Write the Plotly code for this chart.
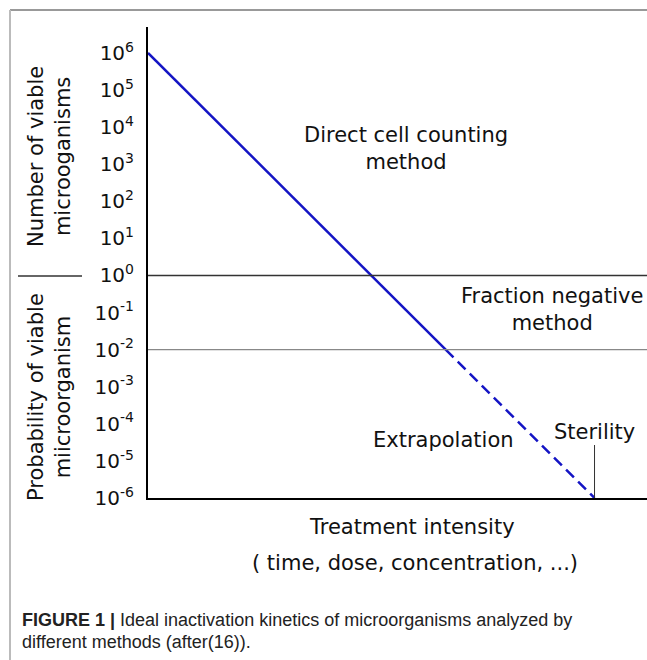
import numpy as np
import plotly.graph_objects as go

# ---- data ----
treatment = [0, 8, 12]            # treatment intensity (arbitrary units)
viable = [1e6, 1e-2, 1e-6]        # number / probability of viable microorganisms
tick_exponents = list(range(-6, 7))
tick_labels = [f"10<sup>{e}</sup>" for e in tick_exponents]

logv = list(np.log10(viable))

W, H = 647, 660
L, R, T, B = 148, 0, 27, 162
pw, ph = W - L - R, H - T - B
XR = [0, 13.41]
YR = [-6, 6.7]

def px(xp):   # pixel x -> paper x
    return (xp - L) / pw
def py(yp):   # pixel y -> paper y
    return (H - B - yp) / ph
def yd(yp):
    return YR[1] - (yp - T) / ph * (YR[1] - YR[0])
def xd(xp):
    return (xp - L) / pw * (XR[1] - XR[0])

fig = go.Figure()
blue = "#1414c4"
fig.add_trace(go.Scatter(x=treatment[:2], y=logv[:2], mode="lines",
                         line=dict(color=blue, width=2.5), showlegend=False, hoverinfo="skip"))
fig.add_trace(go.Scatter(x=treatment[1:], y=logv[1:], mode="lines",
                         line=dict(color=blue, width=2.5, dash="11px,6px"), showlegend=False, hoverinfo="skip"))

font = "DejaVu Sans, Verdana, sans-serif"
cap_font = "Liberation Sans Narrow, Liberation Sans, Arial, sans-serif"
shapes = [
    dict(type="line", xref="paper", yref="y", x0=0, x1=1, y0=0, y1=0,
         line=dict(color="#333333", width=1.6)),
    dict(type="line", xref="paper", yref="y", x0=0, x1=1, y0=-2, y1=-2,
         line=dict(color="#888888", width=1.3)),
    dict(type="line", xref="x", yref="paper", x0=treatment[2], x1=treatment[2],
         y0=0, y1=py(445), line=dict(color="#333333", width=1)),
    dict(type="line", xref="paper", yref="paper", x0=px(18), x1=px(82),
         y0=py(276), y1=py(276), line=dict(color="#333333", width=1.6)),
    # frame
    dict(type="line", xref="paper", yref="paper", x0=px(10), x1=px(W + 5),
         y0=py(10), y1=py(10), line=dict(color="#999999", width=2)),
    dict(type="line", xref="paper", yref="paper", x0=px(10), x1=px(10),
         y0=py(10), y1=py(H + 5), line=dict(color="#bbbbbb", width=2)),
]

def ann(x, y, text, xref="paper", yref="paper", size=21, **kw):
    d = dict(x=x, y=y, xref=xref, yref=yref, text=text, showarrow=False,
             xanchor="center", yanchor="middle",
             font=dict(family=font, size=size, color="#111"))
    d.update(kw)
    return d

anns = [
    ann(xd(406), yd(148), "Direct cell counting<br>method", "x", "y"),
    ann(xd(552), yd(309), "Fraction negative<br>method", "x", "y"),
    ann(xd(443), yd(440), "Extrapolation", "x", "y"),
    ann(treatment[2], yd(432), "Sterility", "x", "y"),
    ann(px(412), py(527), "Treatment intensity"),
    ann(px(415), py(563), "( time, dose, concentration, ...)"),
    ann(px(49), py(157), "Number of viable<br>microoganisms", textangle=-90),
    ann(px(49), py(397), "Probability of viable<br>miicroorganism", textangle=-90),
    dict(x=px(20), y=py(620), xref="paper", yref="paper", xanchor="left", yanchor="middle",
         text="<b>FIGURE 1 |</b> Ideal inactivation kinetics of microorganisms analyzed by",
         showarrow=False, font=dict(family=cap_font, size=18, color="#222")),
    dict(x=px(20), y=py(642), xref="paper", yref="paper", xanchor="left", yanchor="middle",
         text="different methods (after(16)).",
         showarrow=False, font=dict(family=cap_font, size=18, color="#222")),
]

fig.update_layout(
    width=W, height=H,
    margin=dict(l=L, r=R, t=T, b=B),
    paper_bgcolor="white", plot_bgcolor="white",
    shapes=shapes, annotations=anns,
    xaxis=dict(range=XR, showgrid=False, zeroline=False, showticklabels=False,
               showline=True, linecolor="#000", linewidth=2, fixedrange=True),
    yaxis=dict(range=YR, showgrid=False, zeroline=False, tickmode="array",
               tickvals=tick_exponents, ticktext=tick_labels, ticks="",
               ticklabelstandoff=8,
               tickfont=dict(family=font, size=20, color="#111"),
               showline=True, linecolor="#000", linewidth=2, fixedrange=True),
)

fig.write_html("out.html", config={"displayModeBar": False},
               post_script="document.body.style.margin='0';")
